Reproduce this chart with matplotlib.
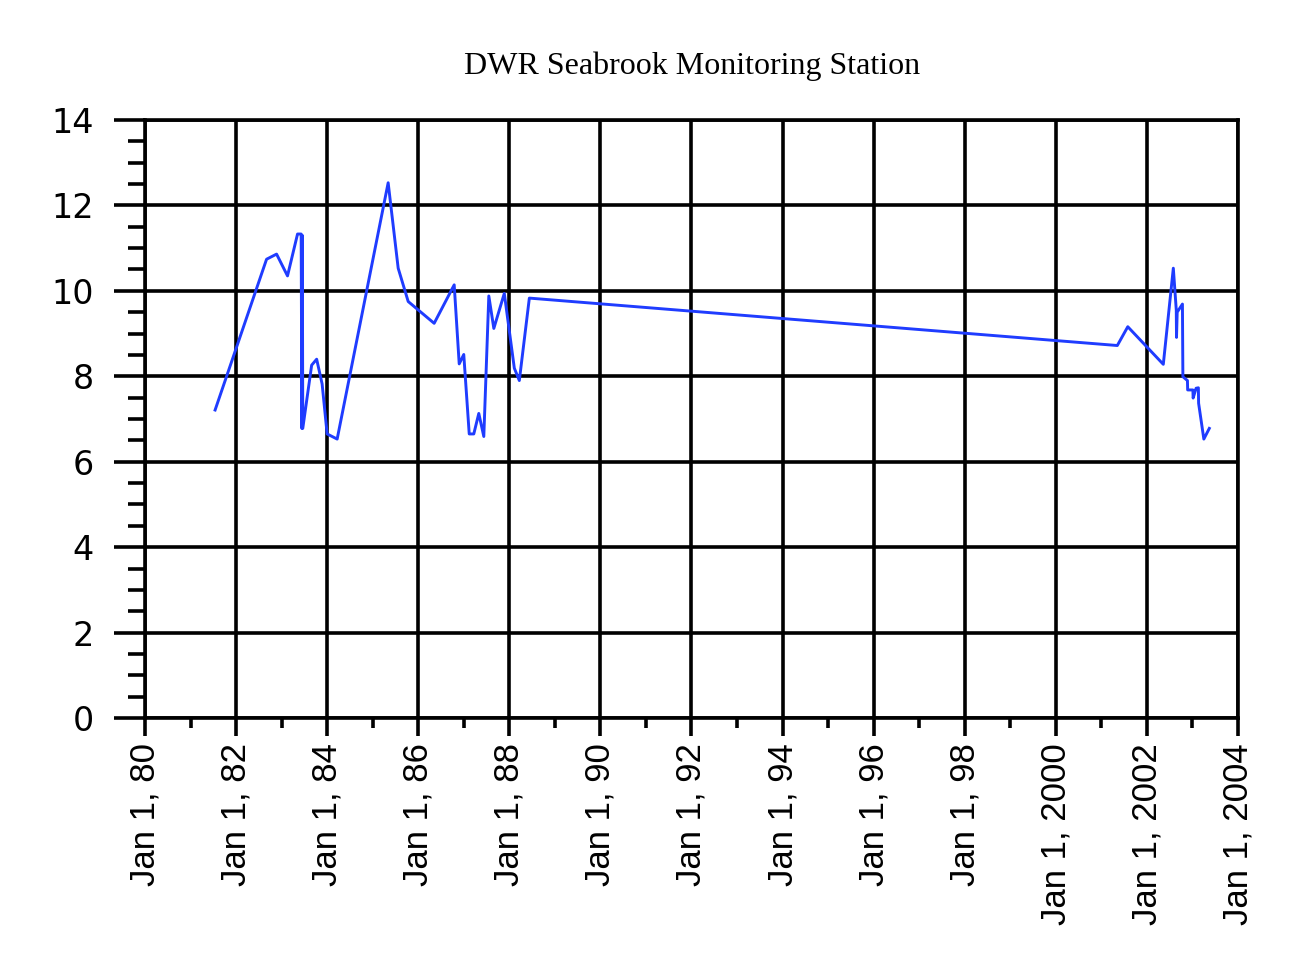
import matplotlib
matplotlib.use("Agg")
import matplotlib.pyplot as plt
from matplotlib.ticker import MultipleLocator, FuncFormatter

# Values (decimal year, reading)
years = [
    1981.54, 1982.67, 1982.89, 1983.13, 1983.35, 1983.43, 1983.445, 1983.455, 1983.465,
    1983.66, 1983.77, 1983.89, 1984.00, 1984.22, 1985.34, 1985.56, 1985.78, 1986.35,
    1986.79, 1986.90, 1987.00, 1987.12, 1987.22, 1987.33, 1987.44, 1987.55, 1987.66,
    1987.89, 1988.11, 1988.22, 1988.44,
    2001.35, 2001.58, 2002.36, 2002.58, 2002.645, 2002.65, 2002.665, 2002.78, 2002.79,
    2002.89, 2002.895, 2003.01, 2003.015, 2003.08, 2003.13, 2003.135, 2003.25, 2003.37,
]
values = [
    7.21, 10.74, 10.86, 10.35, 11.33, 11.33, 6.78, 11.30, 6.78,
    8.26, 8.40, 7.82, 6.65, 6.53, 12.53, 10.53, 9.75, 9.24,
    10.14, 8.29, 8.51, 6.65, 6.65, 7.13, 6.59, 9.88, 9.12,
    9.94, 8.19, 7.90, 9.83,
    8.72, 9.16, 8.28, 10.53, 9.55, 8.91, 9.50, 9.69, 7.99,
    7.90, 7.68, 7.68, 7.49, 7.72, 7.73, 7.37, 6.53, 6.78,
]

title = "DWR Seabrook Monitoring Station"


def year_label(x, pos):
    yr = int(round(x))
    if yr < 2000:
        return f"Jan 1, {yr % 100:02d}"
    return f"Jan 1, {yr}"


fig = plt.figure(figsize=(12.92, 9.69), dpi=100)
ax = fig.add_axes([0.1122, 0.259, 0.846, 0.6172])

ax.plot(years, values, color="#1f3cff", linewidth=2.1, zorder=3)

ax.set_xlim(1980, 2004)
ax.set_ylim(0, 14)
ax.xaxis.set_major_locator(MultipleLocator(2))
ax.xaxis.set_minor_locator(MultipleLocator(1))
ax.yaxis.set_major_locator(MultipleLocator(2))
ax.yaxis.set_minor_locator(MultipleLocator(0.5))
ax.xaxis.set_major_formatter(FuncFormatter(year_label))

ax.grid(True, which="major", color="black", linewidth=2.6)
for s in ax.spines.values():
    s.set_linewidth(2.6)

ax.tick_params(axis="y", which="major", length=22, width=2.6, labelsize=24, pad=15)
ax.tick_params(axis="y", which="minor", length=12, width=2.6)
ax.tick_params(axis="x", which="major", length=13, width=2.6, pad=5)
ax.tick_params(axis="x", which="minor", length=7, width=2.6)

for lab in ax.get_yticklabels():
    lab.set_fontfamily(["DejaVu Sans"])
for lab in ax.get_xticklabels():
    lab.set_rotation(90)
    lab.set_fontfamily(["Liberation Sans", "DejaVu Sans"])
    lab.set_fontsize(25)

fig.text(0.5355, 0.932, title, ha="center", va="center",
         family=["Liberation Serif", "DejaVu Serif"], fontsize=23)

fig.savefig("out.png", dpi=100)
